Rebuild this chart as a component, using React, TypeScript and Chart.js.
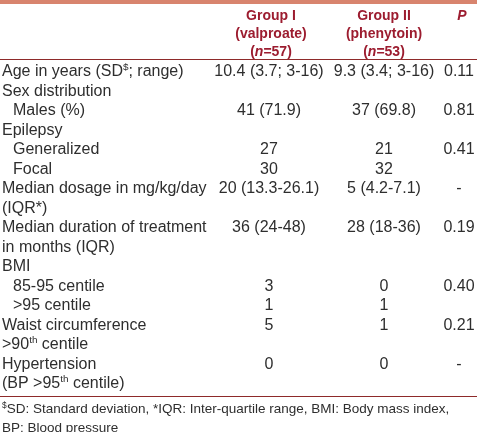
import React, { useEffect, useRef } from "react";
import { Chart, registerables } from "chart.js";

Chart.register(...registerables);

// ---------- DATA ----------
// ^...^ = superscript, ~...~ = italic
const columnHeaders: string[][] = [
  ["Group I", "(valproate)", "(~n~=57)"],
  ["Group II", "(phenytoin)", "(~n~=53)"],
  ["~P~"],
];

const rowLabels: string[][] = [
  ["Age in years (SD^$^; range)"],
  ["Sex distribution"],
  ["Males (%)"],
  ["Epilepsy"],
  ["Generalized"],
  ["Focal"],
  ["Median dosage in mg/kg/day", "(IQR*)"],
  ["Median duration of treatment", "in months (IQR)"],
  ["BMI"],
  ["85-95 centile"],
  [">95 centile"],
  ["Waist circumference", ">90^th^ centile"],
  ["Hypertension", "(BP >95^th^ centile)"],
];

const rowIndented: boolean[] = [false, false, true, false, true, true, false, false, false, true, true, false, false];

const group1Values: string[] = ["10.4 (3.7; 3-16)", "", "41 (71.9)", "", "27", "30", "20 (13.3-26.1)", "36 (24-48)", "", "3", "1", "5", "0"];
const group2Values: string[] = ["9.3 (3.4; 3-16)", "", "37 (69.8)", "", "21", "32", "5 (4.2-7.1)", "28 (18-36)", "", "0", "1", "1", "0"];
const pValues: string[] = ["0.11", "", "0.81", "", "0.41", "", "-", "0.19", "", "0.40", "", "0.21", "-"];

const footnotes: string[] = [
  "^$^SD: Standard deviation, *IQR: Inter-quartile range, BMI: Body mass index,",
  "BP: Blood pressure",
];

// ---------- STYLE / LAYOUT ----------
const W = 477;
const H = 432;
const FIRST_LINE_PX = 70.5;
const LINE_PX = 19.5;
const pxToLine = (px: number) => (px - FIRST_LINE_PX) / LINE_PX;

const LABEL_X = 2;
const INDENT_X = 13;
const COL_X = [269, 384, 459];
const HEADER_COL_X = [271, 384, 462];

const HEADER_LINES = [pxToLine(14.5), pxToLine(32.5), pxToLine(50.5)];
const TOP_BAND = [pxToLine(0), pxToLine(4)];
const HEADER_RULE = pxToLine(59.5);
const BOTTOM_RULE = pxToLine(395.5);
const FOOT_LINES = [pxToLine(408.5), pxToLine(427)];

const FONT_FAMILY = '"Liberation Sans", Arial, Helvetica, sans-serif';
const BODY_SIZE = 16;
const HEAD_SIZE = 14;
const FOOT_SIZE = 13.5;
const TEXT_COLOR = "#2e2e2e";
const HEAD_COLOR = "#9c1c2f";
const RULE_COLOR = "#8e2a2a";
const BAND_COLOR = "#d8846e";

type Run = { t: string; sup: boolean; it: boolean };
function parseRich(s: string): Run[] {
  const runs: Run[] = [];
  let sup = false, it = false, cur = "";
  for (const ch of s) {
    if (ch === "^" || ch === "~") {
      if (cur) runs.push({ t: cur, sup, it });
      cur = "";
      if (ch === "^") sup = !sup; else it = !it;
    } else cur += ch;
  }
  if (cur) runs.push({ t: cur, sup, it });
  return runs;
}

function fontFor(r: Run, size: number, weight: string) {
  const s = r.sup ? size * 0.62 : size;
  return `${r.it ? "italic " : ""}${weight} ${s}px ${FONT_FAMILY}`;
}

function drawRich(
  ctx: CanvasRenderingContext2D,
  text: string,
  x: number,
  yCenter: number,
  size: number,
  weight: string,
  color: string,
  align: "left" | "center"
) {
  const runs = parseRich(text);
  let total = 0;
  const widths: number[] = [];
  for (const r of runs) {
    ctx.font = fontFor(r, size, weight);
    const w = ctx.measureText(r.t).width;
    widths.push(w);
    total += w;
  }
  let sx = align === "center" ? x - total / 2 : x;
  const base = yCenter + (size * 0.716) / 2;
  ctx.fillStyle = color;
  ctx.textAlign = "left";
  ctx.textBaseline = "alphabetic";
  runs.forEach((r, i) => {
    ctx.font = fontFor(r, size, weight);
    ctx.fillText(r.t, sx, r.sup ? base - size * 0.36 : base);
    sx += widths[i];
  });
}

type TextPoint = { x: number; y: number; text: string };
type TextSet = { points: TextPoint[]; size: number; weight: string; color: string; align: "left" | "center" };

function buildSets(): TextSet[] {
  const labels: TextPoint[] = [];
  const g1: TextPoint[] = [];
  const g2: TextPoint[] = [];
  const pv: TextPoint[] = [];
  let line = 0;
  rowLabels.forEach((lines, r) => {
    lines.forEach((t, k) => {
      labels.push({ x: rowIndented[r] ? INDENT_X : LABEL_X, y: line + k, text: t });
    });
    if (group1Values[r]) g1.push({ x: COL_X[0], y: line, text: group1Values[r] });
    if (group2Values[r]) g2.push({ x: COL_X[1], y: line, text: group2Values[r] });
    if (pValues[r]) pv.push({ x: COL_X[2], y: line, text: pValues[r] });
    line += lines.length;
  });
  const header: TextPoint[] = [];
  columnHeaders.forEach((lines, c) => {
    lines.forEach((t, k) => header.push({ x: HEADER_COL_X[c], y: HEADER_LINES[k], text: t }));
  });
  const foot: TextPoint[] = footnotes.map((t, k) => ({ x: LABEL_X, y: FOOT_LINES[k], text: t }));
  return [
    { points: header, size: HEAD_SIZE, weight: "bold", color: HEAD_COLOR, align: "center" },
    { points: labels, size: BODY_SIZE, weight: "normal", color: TEXT_COLOR, align: "left" },
    { points: g1, size: BODY_SIZE, weight: "normal", color: TEXT_COLOR, align: "center" },
    { points: g2, size: BODY_SIZE, weight: "normal", color: TEXT_COLOR, align: "center" },
    { points: pv, size: BODY_SIZE, weight: "normal", color: TEXT_COLOR, align: "center" },
    { points: foot, size: FOOT_SIZE, weight: "normal", color: TEXT_COLOR, align: "left" },
  ];
}

export default function App() {
  const ref = useRef<HTMLCanvasElement | null>(null);
  useEffect(() => {
    if (!ref.current) return;
    const sets = buildSets();
    const tablePlugin = {
      id: "tableText",
      beforeDatasetsDraw(chart: any) {
        const ctx: CanvasRenderingContext2D = chart.ctx;
        const xs = chart.scales.x;
        const ys = chart.scales.y;
        const x0 = xs.getPixelForValue(0);
        const x1 = xs.getPixelForValue(W);
        ctx.save();
        ctx.fillStyle = BAND_COLOR;
        const b0 = ys.getPixelForValue(TOP_BAND[0]);
        const b1 = ys.getPixelForValue(TOP_BAND[1]);
        ctx.fillRect(x0, b0, x1 - x0, b1 - b0);
        ctx.strokeStyle = RULE_COLOR;
        ctx.lineWidth = 1;
        [HEADER_RULE, BOTTOM_RULE].forEach((v) => {
          const y = Math.round(ys.getPixelForValue(v)) + 0.5;
          ctx.beginPath();
          ctx.moveTo(x0, y);
          ctx.lineTo(x1, y);
          ctx.stroke();
        });
        ctx.restore();
      },
      afterDatasetsDraw(chart: any) {
        const ctx: CanvasRenderingContext2D = chart.ctx;
        ctx.save();
        sets.forEach((s, di) => {
          const meta = chart.getDatasetMeta(di);
          meta.data.forEach((el: any, i: number) => {
            drawRich(ctx, s.points[i].text, el.x, el.y, s.size, s.weight, s.color, s.align);
          });
        });
        ctx.restore();
      },
    };
    const chart = new Chart(ref.current, {
      type: "scatter",
      data: {
        datasets: sets.map((s) => ({
          data: s.points.map((p) => ({ x: p.x, y: p.y })),
          pointRadius: 0,
          pointHoverRadius: 0,
          showLine: false,
        })),
      },
      options: {
        animation: false,
        responsive: false,
        devicePixelRatio: 1,
        layout: { padding: 0 },
        events: [],
        plugins: { legend: { display: false }, tooltip: { enabled: false } },
        scales: {
          x: { type: "linear", min: 0, max: W, display: false },
          y: { type: "linear", min: pxToLine(0), max: pxToLine(H), reverse: true, display: false },
        },
      },
      plugins: [tablePlugin],
    } as any);
    return () => chart.destroy();
  }, []);
  return (
    <div style={{ position: "fixed", left: 0, top: 0, width: W, height: H, background: "#fff" }}>
      <canvas ref={ref} width={W} height={H} style={{ width: W, height: H, display: "block" }} />
    </div>
  );
}
